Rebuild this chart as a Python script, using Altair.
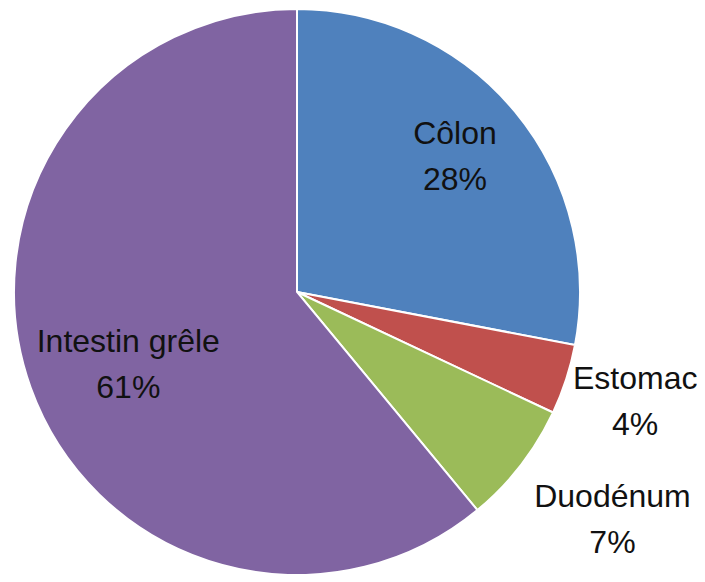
import altair as alt
import pandas as pd

categories = ["Côlon", "Estomac", "Duodénum", "Intestin grêle"]
values = [28, 4, 7, 61]
colors = ["#4F81BD", "#C0504D", "#9BBB59", "#8064A2"]
# label placement (layout): distance from centre in px, angular nudge in degrees
label_radius = [209, 355, 388, 183]
label_nudge = [-1.3, -0.3, -2.2, -3.0]

df = pd.DataFrame({
    "cat": categories,
    "val": values,
    "order": list(range(len(categories))),
    "pct": [f"{v}%" for v in values],
    "lr": label_radius,
    "nudge": label_nudge,
})

cx, cy, R = 289, 284, 283

pie = alt.Chart(df).mark_arc(radius=R, stroke="white", strokeWidth=2).encode(
    theta=alt.Theta("val:Q", stack=True),
    order=alt.Order("order:Q"),
    color=alt.Color("cat:N", scale=alt.Scale(domain=categories, range=colors), legend=None),
    x=alt.value(cx),
    y=alt.value(cy),
)

text = alt.Chart(df).transform_joinaggregate(
    total="sum(val)"
).transform_window(
    cum="sum(val)", sort=[alt.SortField("order")], frame=[None, 0]
).transform_calculate(
    ang="((datum.cum - datum.val / 2) / datum.total * 360 + datum.nudge) * PI / 180",
    lx=f"{cx} + datum.lr * sin(datum.ang)",
    ly=f"{cy} - datum.lr * cos(datum.ang)",
    label="[datum.cat, datum.pct]",
).mark_text(font="Liberation Sans", fontSize=32, lineHeight=46, dy=-21,
            color="#111111").encode(
    x=alt.X("lx:Q", scale=None),
    y=alt.Y("ly:Q", scale=None),
    text="label:N",
)

chart = (pie + text).properties(
    width=689, height=566, padding=0, autosize=alt.AutoSizeParams(type="none")
).configure_view(stroke=None)

chart.save("out.html", embed_options={"renderer": "svg", "actions": False})
